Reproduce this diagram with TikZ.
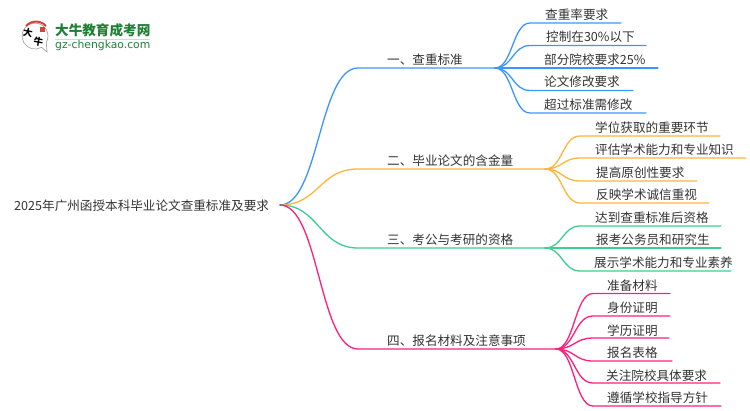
\documentclass[tikz,border=0pt]{standalone}
\usepackage{fontspec}
\setmainfont{Noto Sans CJK SC}
\newfontfamily\logofont{DejaVu Sans}
\usetikzlibrary{calc}
\definecolor{lineblue}{HTML}{3A96FF}
\definecolor{lineorange}{HTML}{FFB53A}
\definecolor{linegreen}{HTML}{3BD08E}
\definecolor{linepink}{HTML}{FF1F7C}
\definecolor{textgray}{HTML}{333333}
\definecolor{logogreen}{HTML}{1F7F35}
\definecolor{logored}{HTML}{D8403A}
\def\branch[#1](#2)(#3)(#4){\draw[#1] let \p1=(#2), \p2=(#3) in (\p1) .. controls ({0.5*\x1+0.5*\x2},\y1) and ({0.5*\x1+0.5*\x2},\y2) .. (\p2) -- (#4);}
\tikzset{
	label/.style={anchor=west, inner sep=0pt, text=textgray, font=\fontsize{12.6}{14}\selectfont},
	wire/.style={line width=1.3pt, line cap=round},
	logochar/.style={inner sep=0pt, font=\fontsize{9.5}{10}\selectfont\bfseries}
}

\begin{document}
\begin{tikzpicture}[x=1pt, y=-1pt]
			%%%%% START %%%%%
			\useasboundingbox (0, 0) rectangle (750, 410);
			
			\draw[fill=white, draw=black!35, line width=0.7pt] (41.5, 47.3) arc (60:390:13) -- (47, 52) -- cycle;
			\draw[logored, line width=2pt] (26, 26) arc (222:318:13.5);
			\node[logochar, rotate=-10] (logoa) at (28, 33) {大};
			\node[logochar, rotate=-10] (logob) at (38.5, 42) {牛};
			\node[inner sep=0pt, fill=logored, minimum size=5pt] (logoc) at (42, 29) {};
			\node[anchor=west, inner sep=0pt, text=logogreen, font=\fontsize{13.6}{14}\selectfont\bfseries] (logotitle) at (55, 30) {大牛教育成考网};
			\draw[logogreen!25, line width=0.8pt] (55, 39) -- (150, 39);
			\node[anchor=west, inner sep=0pt, text=logogreen, font=\logofont\fontsize{10.8}{11}\selectfont] (logourl) at (55, 45.5) {gz-chengkao.com};
			
			\node[label] (root) at (14, 205.5) {2025年广州函授本科毕业论文查重标准及要求};
			\coordinate (rootend) at (280, 205);
			
			\node[label] (one) at (387, 59.5) {一、查重标准};
			\coordinate (onea) at (358, 68);
			\coordinate (oneb) at (495, 68);
			\branch[wire, lineblue](rootend)(onea)(oneb);
			
			\node[label] (two) at (387, 160.5) {二、毕业论文的含金量};
			\coordinate (twoa) at (358, 169);
			\coordinate (twob) at (545, 169);
			\branch[wire, lineorange](rootend)(twoa)(twob);
			
			\node[label] (three) at (387, 239.5) {三、考公与考研的资格};
			\coordinate (threea) at (358, 248);
			\coordinate (threeb) at (545, 248);
			\branch[wire, linegreen](rootend)(threea)(threeb);
			
			\node[label] (four) at (387, 340.5) {四、报名材料及注意事项};
			\coordinate (foura) at (358, 349);
			\coordinate (fourb) at (556, 349);
			\branch[wire, linepink](rootend)(foura)(fourb);
			
			\node[label] (onei) at (545, 14.5) {查重率要求};
			\coordinate (oneia) at (530, 23);
			\coordinate (oneib) at (621, 23);
			\branch[wire, lineblue](oneb)(oneia)(oneib);
			\node[label] (oneii) at (546, 36.5) {控制在30\%以下};
			\coordinate (oneiia) at (530, 45.5);
			\coordinate (oneiib) at (646, 45.5);
			\branch[wire, lineblue](oneb)(oneiia)(oneiib);
			\node[label] (oneiii) at (544, 59.5) {部分院校要求25\%};
			\coordinate (oneiiib) at (658, 68);
			\draw[wire, lineblue] (oneb) -- (oneiiib);
			\node[label] (oneiv) at (544, 81.5) {论文修改要求};
			\coordinate (oneiva) at (530, 90.5);
			\coordinate (oneivb) at (633, 90.5);
			\branch[wire, lineblue](oneb)(oneiva)(oneivb);
			\node[label] (onev) at (544, 104.5) {超过标准需修改};
			\coordinate (oneva) at (530, 113);
			\coordinate (onevb) at (646, 113);
			\branch[wire, lineblue](oneb)(oneva)(onevb);
			
			\node[label] (twoi) at (595, 127.5) {学位获取的重要环节};
			\coordinate (twoia) at (580, 136);
			\coordinate (twoib) at (720, 136);
			\branch[wire, lineorange](twob)(twoia)(twoib);
			\node[label] (twoii) at (595, 149.5) {评估学术能力和专业知识};
			\coordinate (twoiia) at (580, 158);
			\coordinate (twoiib) at (746, 158);
			\branch[wire, lineorange](twob)(twoiia)(twoiib);
			\node[label] (twoiii) at (596, 172.5) {提高原创性要求};
			\coordinate (twoiiia) at (580, 181);
			\coordinate (twoiiib) at (697, 181);
			\branch[wire, lineorange](twob)(twoiiia)(twoiiib);
			\node[label] (twoiv) at (596, 194.5) {反映学术诚信重视};
			\coordinate (twoiva) at (580, 203);
			\coordinate (twoivb) at (709, 203);
			\branch[wire, lineorange](twob)(twoiva)(twoivb);
			
			\node[label] (threei) at (595, 217.5) {达到查重标准后资格};
			\coordinate (threeia) at (580, 226);
			\coordinate (threeib) at (721, 226);
			\branch[wire, linegreen](threeb)(threeia)(threeib);
			\node[label] (threeii) at (596, 239.5) {报考公务员和研究生};
			\coordinate (threeiib) at (721, 248);
			\draw[wire, linegreen] (threeb) -- (threeiib);
			\node[label] (threeiii) at (594, 262.5) {展示学术能力和专业素养};
			\coordinate (threeiiia) at (580, 271);
			\coordinate (threeiiib) at (731, 271);
			\branch[wire, linegreen](threeb)(threeiiia)(threeiiib);
			
			\node[label] (fouri) at (607, 285.5) {准备材料};
			\coordinate (fouria) at (593, 293.5);
			\coordinate (fourib) at (670, 293.5);
			\branch[wire, linepink](fourb)(fouria)(fourib);
			\node[label] (fourii) at (607, 307.5) {身份证明};
			\coordinate (fouriia) at (593, 316);
			\coordinate (fouriib) at (670, 316);
			\branch[wire, linepink](fourb)(fouriia)(fouriib);
			\node[label] (fouriii) at (607, 330.5) {学历证明};
			\coordinate (fouriiia) at (593, 338);
			\coordinate (fouriiib) at (669, 338);
			\branch[wire, linepink](fourb)(fouriiia)(fouriiib);
			\node[label] (fouriv) at (607, 352.5) {报名表格};
			\coordinate (fouriva) at (593, 361);
			\coordinate (fourivb) at (672, 361);
			\branch[wire, linepink](fourb)(fouriva)(fourivb);
			\node[label] (fourv) at (606, 375.5) {关注院校具体要求};
			\coordinate (fourva) at (593, 383);
			\coordinate (fourvb) at (720, 383);
			\branch[wire, linepink](fourb)(fourva)(fourvb);
			\node[label] (fourvi) at (607, 397.5) {遵循学校指导方针};
			\coordinate (fourvia) at (593, 406);
			\coordinate (fourvib) at (721, 406);
			\branch[wire, linepink](fourb)(fourvia)(fourvib);
			%%%%% END %%%%%
		\end{tikzpicture}
\end{document}
